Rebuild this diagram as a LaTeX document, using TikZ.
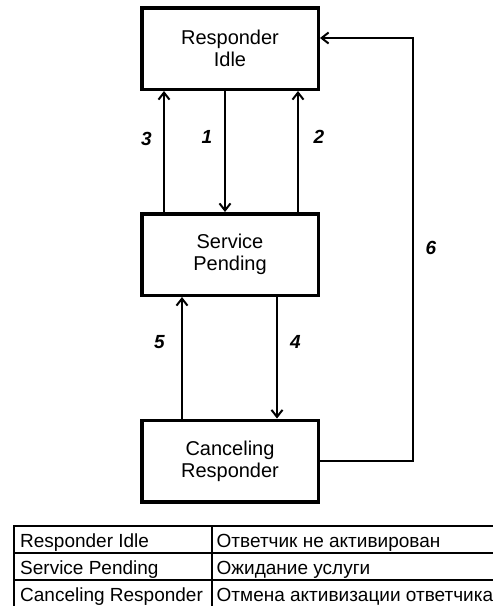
\documentclass[tikz,border=0pt]{standalone}
\usepackage{fontspec}
\setmainfont{Liberation Sans}
\usetikzlibrary{calc,arrows.meta}

\begin{document}
\begin{tikzpicture}[x=1pt, y=-1pt,
  state/.style={draw, line width=3.5pt, minimum width=176.5pt, minimum height=81.5pt,
    inner sep=0pt, align=center, font=\fontsize{20}{22}\selectfont},
  trans/.style={line width=2pt, -{Straight Barb[length=7pt,width=11pt,line width=2pt]}},
  lbl/.style={inner sep=0pt, font=\fontsize{19}{19}\selectfont\bfseries\itshape},
  cell/.style={anchor=base west, inner sep=0pt, font=\fontsize{19}{19}\selectfont}]
  \useasboundingbox (0,0) rectangle (493,606);
  % состояния
  \node[state] (idle) at (230,48.5) {Responder\\Idle};
  \node[state] (pend) at (230,254.5) {Service\\Pending};
  \node[state] (canc) at (230,461) {Canceling\\Responder};
  % переходы 1--5
  \foreach \xx/\a/\b in {164/pend.north/idle.south, 225/idle.south/pend.north,
      298/pend.north/idle.south, 182/canc.north/pend.south, 277/pend.south/canc.north}{
    \draw[trans] (\xx,0 |- \a) -- (\xx,0 |- \b);
  }
  % переход 6
  \coordinate (c6) at (413,38);
  \draw[trans] (canc.east) -| (c6) -- (c6 -| idle.east);
  % номера
  \node[lbl] (n1) at (207,137) {1};
  \node[lbl] (n2) at (319,137) {2};
  \node[lbl] (n3) at (146.5,139) {3};
  \node[lbl] (n4) at (295.5,342) {4};
  \node[lbl] (n5) at (159.5,342) {5};
  \node[lbl] (n6) at (431,248) {6};
  % таблица
  \draw[line width=1.7pt] (14,606) -- (14,526) -- (493,526);
  \draw[line width=1.7pt] (212,526) -- (212,606);
  \foreach \yy in {553,580}{
    \draw[line width=1.7pt] (14,\yy) -- (493,\yy);
  }
  \foreach \i/\en/\ru in {0/Responder Idle/Ответчик не активирован,
      1/Service Pending/Ожидание услуги,
      2/Canceling Responder/Отмена активизации ответчика}{
    \node[cell] (en\i) at (20,{547.3+27*\i}) {\en};
    \node[cell] (ru\i) at (216.5,{547.3+27*\i}) {\ru};
  }
\end{tikzpicture}
\end{document}
